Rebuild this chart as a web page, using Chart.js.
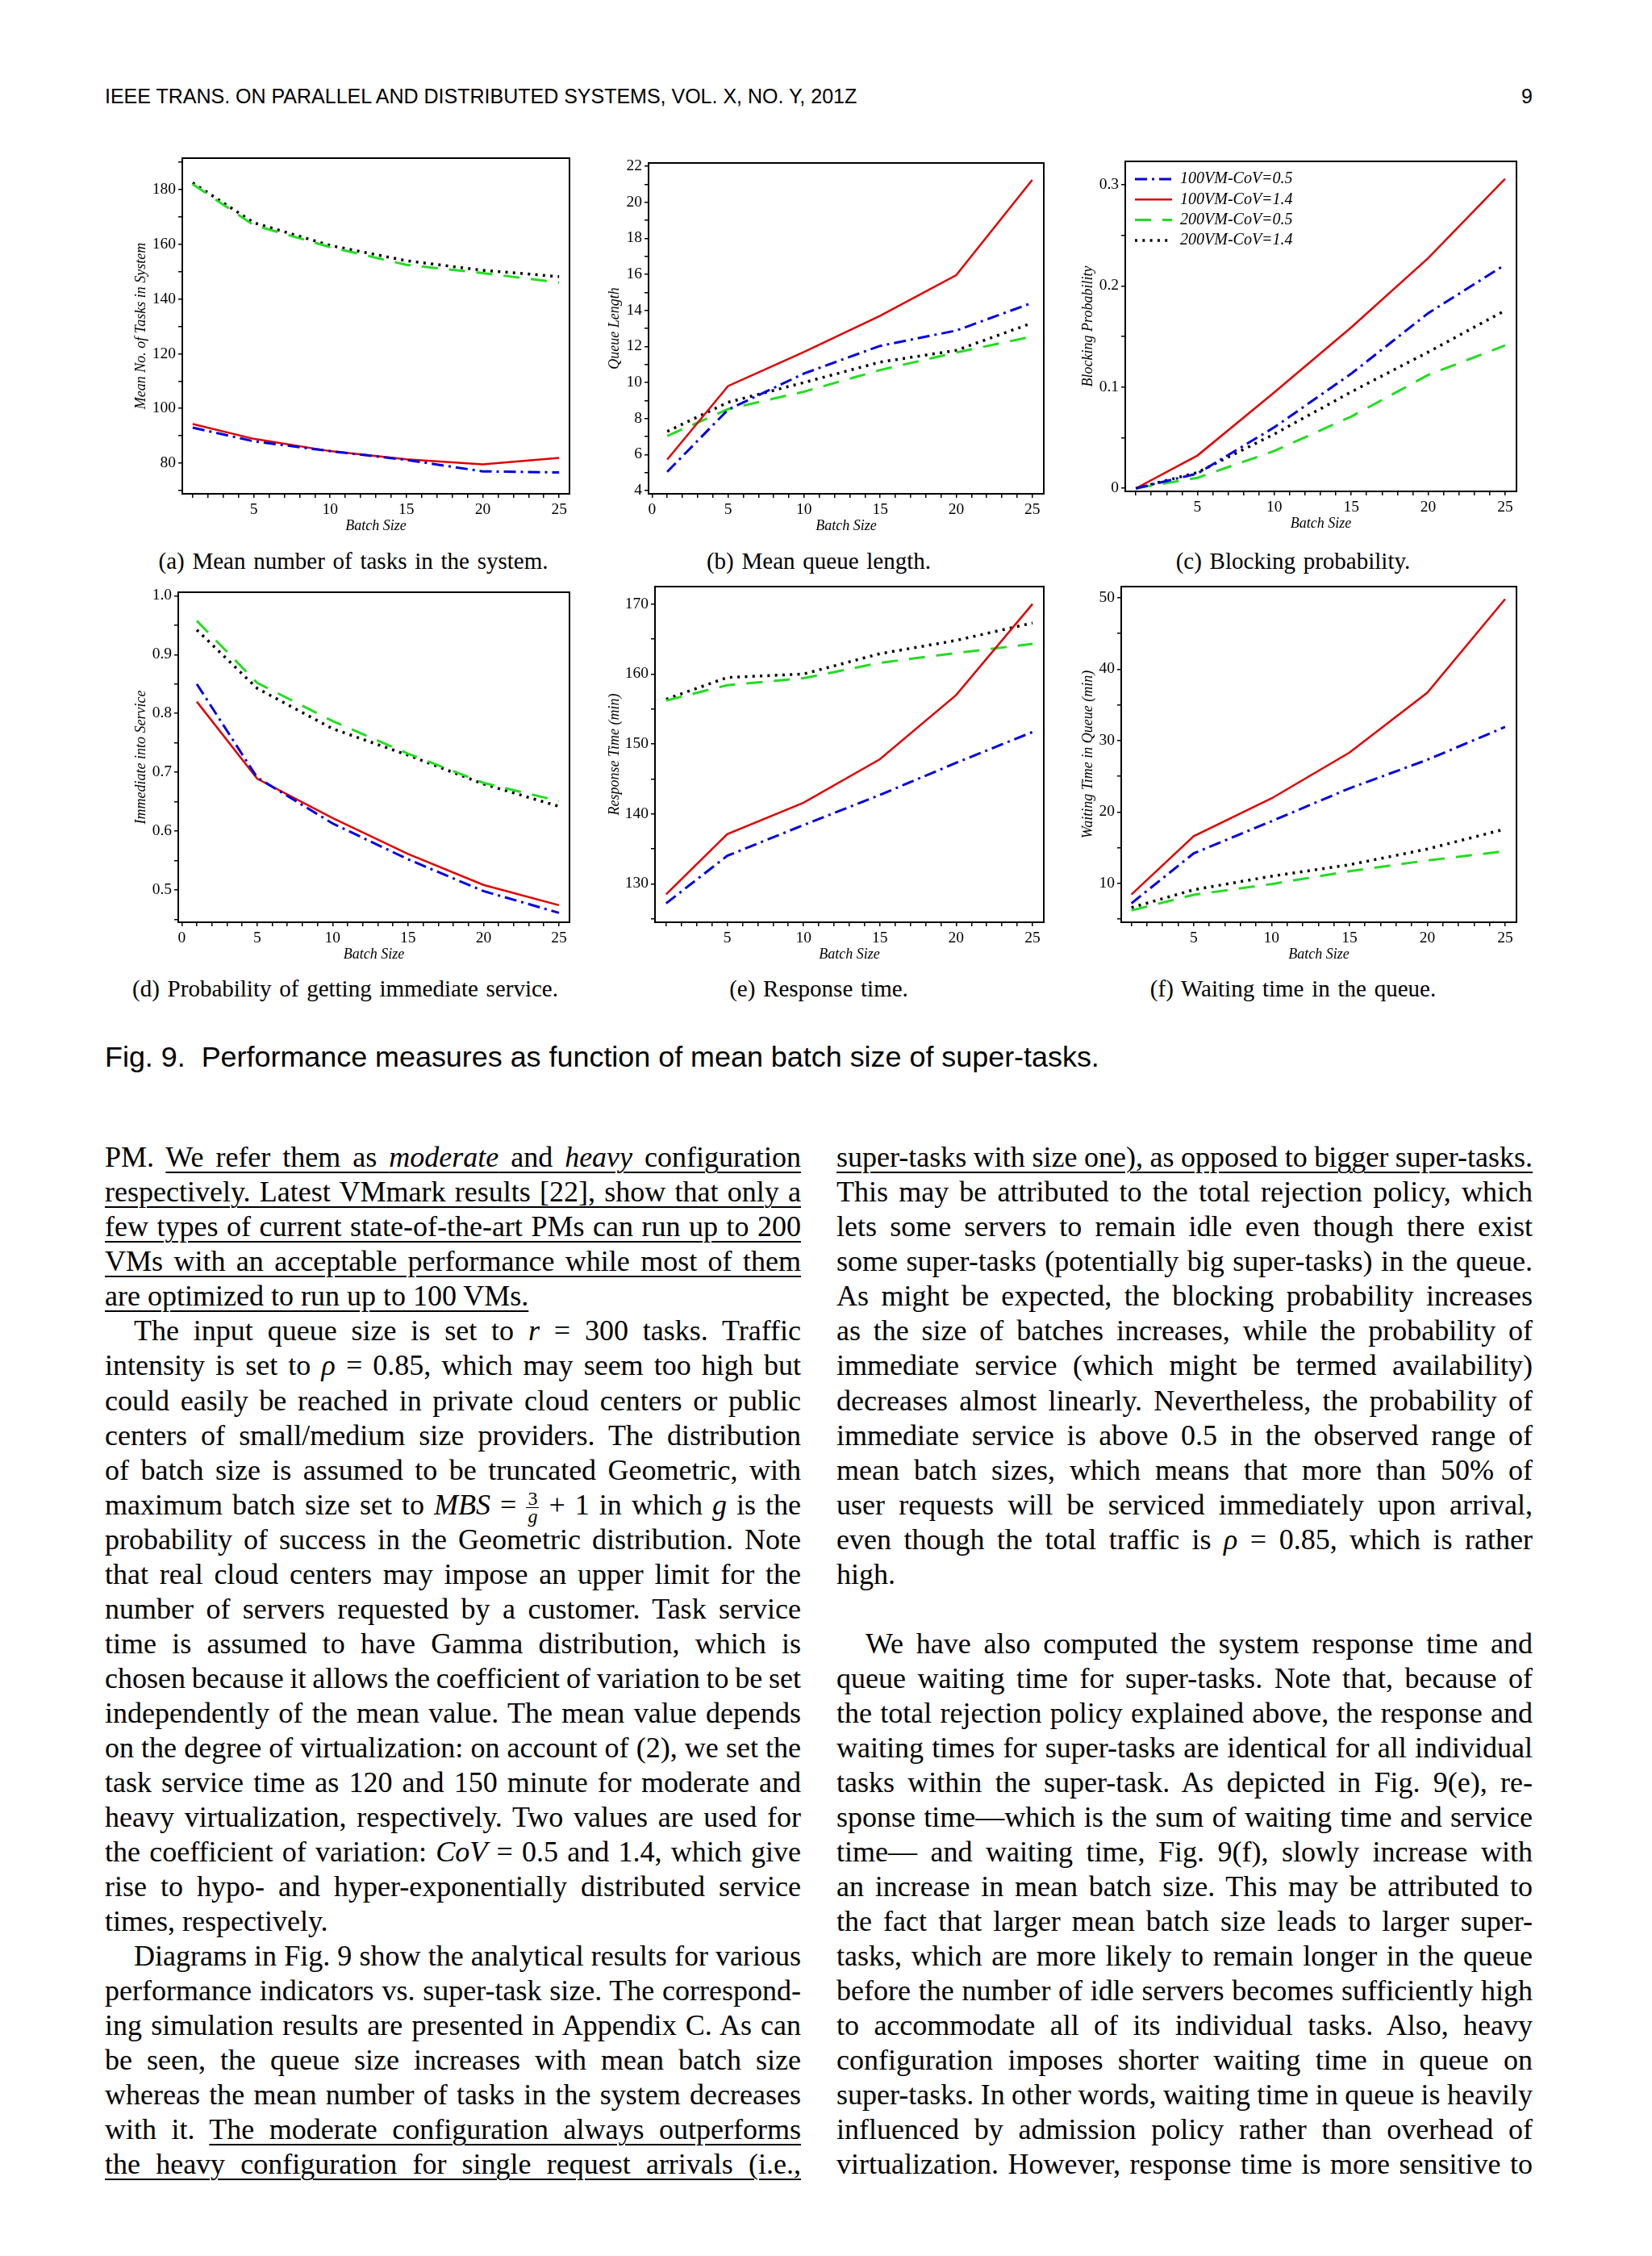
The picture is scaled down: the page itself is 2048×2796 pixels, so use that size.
<!DOCTYPE html>
<html>
<head>
<meta charset="utf-8">
<title>Fig. 9 - performance measures vs batch size</title>
<script src="https://cdn.jsdelivr.net/npm/chart.js@4.4.1/dist/chart.umd.min.js"></script>
<style>
  html, body { margin: 0; padding: 0; background: #fff; }
  body { position: relative; width: 2048px; height: 2796px; overflow: hidden; color: #000;
         font-family: "Liberation Serif", "Times New Roman", serif; }
  .sans { font-family: "Liberation Sans", Arial, sans-serif; }
  .abs { position: absolute; white-space: nowrap; }
  .running { left: 130px; top: 107px; font-size: 25px; line-height: 25px; }
  .pageno { right: 148px; top: 107px; font-size: 25px; line-height: 25px; }
  .figcap { left: 130px; top: 1293px; font-size: 35.9px; line-height: 35.9px; white-space: pre; }
  .subcap { width: 600px; margin-left: -300px; text-align: center; font-size: 29px; line-height: 29px; word-spacing: 2.5px; }
  .ln { position: absolute; height: 43px; line-height: 43px; font-size: 36px; white-space: nowrap; }
  u { text-decoration-thickness: 1.5px; text-underline-offset: 6px; }
  .fr { display: inline-block; vertical-align: -0.42em; text-align: center; font-size: 24px; line-height: 21px; }
  .fr span { display: block; padding: 0 2px; }
  .fr span:first-child { border-bottom: 1.5px solid #000; }
</style>
</head>
<body>
<div class="abs sans running">IEEE TRANS. ON PARALLEL AND DISTRIBUTED SYSTEMS, VOL. X, NO. Y, 201Z</div>
<div class="abs sans pageno">9</div>

<div class="abs subcap" style="left:438px;top:681px">(a) Mean number of tasks in the system.</div>
<div class="abs subcap" style="left:1015px;top:681px">(b) Mean queue length.</div>
<div class="abs subcap" style="left:1603px;top:681px">(c) Blocking probability.</div>
<div class="abs subcap" style="left:428px;top:1211px">(d) Probability of getting immediate service.</div>
<div class="abs subcap" style="left:1015px;top:1211px">(e) Response time.</div>
<div class="abs subcap" style="left:1603px;top:1211px">(f) Waiting time in the queue.</div>

<div class="abs sans figcap">Fig. 9.  Performance measures as function of mean batch size of super-tasks.</div>

<script>
// batch sizes where the curves were evaluated
const batchSize = [1, 5, 10, 15, 20, 25];
const seriesLabels = ['100VM-CoV=0.5', '100VM-CoV=1.4', '200VM-CoV=0.5', '200VM-CoV=1.4'];

// (a) mean number of tasks in system
const tasks100Cov05 = [93, 88, 84.4, 81.2, 77, 76.6];
const tasks100Cov14 = [94.3, 88.9, 84.4, 81.4, 79.6, 81.9];
const tasks200Cov05 = [182, 167, 159, 152.5, 149.5, 146];
const tasks200Cov14 = [182.5, 167.9, 159.6, 154, 150.5, 148.2];

// (b) mean queue length
const queue100Cov05 = [5.04, 8.49, 10.5, 12.03, 12.88, 14.42];
const queue100Cov14 = [5.72, 9.8, 11.7, 13.7, 15.95, 21.24];
const queue200Cov05 = [7.03, 8.52, 9.49, 10.69, 11.66, 12.55];
const queue200Cov14 = [7.28, 8.9, 10.0, 11.13, 11.78, 13.3];

// (c) blocking probability
const block100Cov05 = [0, 0.0146, 0.0603, 0.1133, 0.173, 0.2209];
const block100Cov14 = [0, 0.0324, 0.0948, 0.159, 0.2275, 0.3058];
const block200Cov05 = [0, 0.0104, 0.0369, 0.0709, 0.112, 0.1412];
const block200Cov14 = [0, 0.0157, 0.0536, 0.0953, 0.1346, 0.1757];

// (d) probability of immediate service
const immed100Cov05 = [0.85, 0.691, 0.613, 0.552, 0.498, 0.461];
const immed100Cov14 = [0.82, 0.689, 0.622, 0.561, 0.5085, 0.474];
const immed200Cov05 = [0.9575, 0.852, 0.787, 0.7316, 0.682, 0.651];
const immed200Cov14 = [0.942, 0.8426, 0.774, 0.729, 0.68, 0.642];

// (e) response time (min)
const resp100Cov05 = [127.2, 134, 138.4, 142.7, 147.3, 151.7];
const resp100Cov14 = [128.5, 137.1, 141.6, 147.8, 157.0, 170];
const resp200Cov05 = [156.2, 158.4, 159.4, 161.6, 163.0, 164.3];
const resp200Cov14 = [156.4, 159.5, 160, 162.9, 164.8, 167.3];

// (f) waiting time in queue (min)
const wait100Cov05 = [7.2, 14.2, 18.7, 23.3, 27.3, 31.9];
const wait100Cov14 = [8.44, 16.6, 21.9, 28.3, 36.7, 49.8];
const wait200Cov05 = [6.2, 8.4, 9.9, 11.7, 13.2, 14.5];
const wait200Cov14 = [6.6, 9.1, 11.0, 12.6, 14.8, 17.6];

// labelled ticks
const xTickLabels = [0, 5, 10, 15, 20, 25];
const yTicksA = [80, 100, 120, 140, 160, 180];
const yTicksB = [4, 6, 8, 10, 12, 14, 16, 18, 20, 22];
const yTicksC = [0, 0.1, 0.2, 0.3];
const yTicksD = [0.5, 0.6, 0.7, 0.8, 0.9, 1.0];
const yTicksE = [130, 140, 150, 160, 170];
const yTicksF = [10, 20, 30, 40, 50];

const lineStyles = [
  { borderColor: '#0000e0', borderWidth: 3, borderDash: [15, 6, 3, 6] },
  { borderColor: '#e00000', borderWidth: 2.5, borderDash: [] },
  { borderColor: '#22dd22', borderWidth: 3, borderDash: [20, 14] },
  { borderColor: '#000000', borderWidth: 3.5, borderDash: [3, 6.3] }
];

Chart.defaults.font.family = '"Liberation Serif", "Times New Roman", serif';
Chart.defaults.color = '#000';

// frame round the plot area (Maple style box)
const frame = {
  id: 'frame',
  afterDatasetsDraw(chart) {
    const { ctx, chartArea: a } = chart;
    ctx.save();
    ctx.strokeStyle = '#000';
    ctx.lineWidth = 2;
    ctx.strokeRect(a.left, a.top, a.right - a.left, a.bottom - a.top);
    ctx.restore();
  }
};

// legend drawn inside the plot, top-left (only panel c)
const insideLegend = {
  id: 'insideLegend',
  afterDatasetsDraw(chart) {
    const { ctx, chartArea: a } = chart;
    ctx.save();
    ctx.font = 'italic 20px "Liberation Serif"';
    ctx.textBaseline = 'middle';
    ctx.fillStyle = '#000';
    chart.data.datasets.forEach((ds, i) => {
      const y = a.top + 22 + i * 25.3;
      ctx.strokeStyle = ds.borderColor;
      ctx.lineWidth = ds.borderWidth;
      ctx.setLineDash(ds.borderDash);
      ctx.beginPath();
      ctx.moveTo(a.left + 12, y);
      ctx.lineTo(a.left + 58, y);
      ctx.stroke();
      ctx.fillText(ds.label, a.left + 68, y);
    });
    ctx.restore();
  }
};

const PAD_L = 100, PAD_T = 20, PAD_R = 20, PAD_B = 60;

function axis(isX, cfg) {
  const min = isX ? cfg.xMin : cfg.yMin;
  const max = isX ? cfg.xMax : cfg.yMax;
  const step = isX ? 1 : cfg.yStep;
  const labels = isX ? xTickLabels : cfg.yLabels;
  const fmt = isX ? (v => String(v)) : cfg.fmt;
  return {
    type: 'linear', min, max,
    afterFit: s => { if (isX) s.height = PAD_B; else s.width = PAD_L; },
    afterBuildTicks: s => {
      const t = [];
      for (let k = Math.ceil(min / step - 1e-9); k * step <= max + 1e-9; k++) {
        t.push({ value: +(k * step).toFixed(4) });
      }
      s.ticks = t;
    },
    ticks: {
      autoSkip: false, maxRotation: 0, padding: 3, font: { size: 19.5 },
      callback: v => labels.some(m => Math.abs(m - v) < 1e-9) ? fmt(v) : ''
    },
    grid: { drawOnChartArea: false, drawTicks: true, tickLength: 5, color: '#000', lineWidth: 1.5 },
    border: { display: true, color: '#000', width: 2 },
    title: {
      display: true, text: isX ? 'Batch Size' : cfg.yTitle,
      font: { size: 18, style: 'italic' },
      padding: isX ? { top: 0, bottom: 9.2 } : { top: PAD_L - cfg.yTitleOff - 10.8, bottom: 0 }
    }
  };
}

function makeChart(cfg) {
  const [l, t, r, b] = cfg.box;
  const w = r - l + PAD_L + PAD_R, h = b - t + PAD_T + PAD_B;
  const cv = document.createElement('canvas');
  cv.width = w; cv.height = h;
  cv.style.cssText = `position:absolute;left:${l - PAD_L}px;top:${t - PAD_T}px;width:${w}px;height:${h}px;`;
  document.body.appendChild(cv);
  const datasets = cfg.series.map((vals, i) => Object.assign({
    label: seriesLabels[i],
    data: batchSize.map((x, k) => ({ x, y: vals[k] })),
    pointRadius: 0, tension: 0, fill: false
  }, lineStyles[i]));
  new Chart(cv, {
    type: 'line',
    data: { datasets },
    options: {
      responsive: false, animation: false, devicePixelRatio: 1,
      layout: { padding: { left: 0, top: PAD_T, right: PAD_R, bottom: 0 } },
      plugins: { legend: { display: false }, tooltip: { enabled: false } },
      scales: { x: axis(true, cfg), y: axis(false, cfg) }
    },
    plugins: cfg.legend ? [frame, insideLegend] : [frame]
  });
}

const oneDec = v => v.toFixed(1);
const plain = v => String(v);

makeChart({ box: [226, 196, 706, 612], yTitle: 'Mean No. of Tasks in System', yTitleOff: 51,
  xMin: 0.32, xMax: 25.68, yMin: 68.8, yMax: 191.5, yStep: 10, yLabels: yTicksA, fmt: plain,
  series: [tasks100Cov05, tasks100Cov14, tasks200Cov05, tasks200Cov14] });
makeChart({ box: [804, 202, 1294, 612], yTitle: 'Queue Length', yTitleOff: 42,
  xMin: -0.23, xMax: 25.76, yMin: 3.82, yMax: 22.18, yStep: 1, yLabels: yTicksB, fmt: plain,
  series: [queue100Cov05, queue100Cov14, queue200Cov05, queue200Cov14] });
makeChart({ box: [1395, 200, 1880, 609], yTitle: 'Blocking Probability', yTitleOff: 46, legend: true,
  xMin: 0.31, xMax: 25.74, yMin: -0.003, yMax: 0.323, yStep: 0.05, yLabels: yTicksC, fmt: plain,
  series: [block100Cov05, block100Cov14, block200Cov05, block200Cov14] });
makeChart({ box: [221, 734, 706, 1143], yTitle: 'Immediate into Service', yTitleOff: 46,
  xMin: -0.23, xMax: 25.7, yMin: 0.445, yMax: 1.006, yStep: 0.05, yLabels: yTicksD, fmt: oneDec,
  series: [immed100Cov05, immed100Cov14, immed200Cov05, immed200Cov14] });
makeChart({ box: [812, 727, 1294, 1143], yTitle: 'Response Time (min)', yTitleOff: 50,
  xMin: 0.27, xMax: 25.74, yMin: 124.5, yMax: 172.5, yStep: 5, yLabels: yTicksE, fmt: plain,
  series: [resp100Cov05, resp100Cov14, resp200Cov05, resp200Cov14] });
makeChart({ box: [1390, 727, 1880, 1143], yTitle: 'Waiting Time in Queue (min)', yTitleOff: 41,
  xMin: 0.345, xMax: 25.73, yMin: 4.55, yMax: 51.56, yStep: 5, yLabels: yTicksF, fmt: plain,
  series: [wait100Cov05, wait100Cov14, wait200Cov05, wait200Cov14] });

// ---- body text, one div per typeset line so the breaks match the page ----
const FRAC = '<span class="fr"><span>3</span><span><i>g</i></span></span>';
const leftLines = [
  ['PM. <u>We refer them as <i>moderate</i> and <i>heavy</i> configuration</u>', 'j'],
  ['<u>respectively. Latest VMmark results [22], show that only a</u>', 'j'],
  ['<u>few types of current state-of-the-art PMs can run up to 200</u>', 'j'],
  ['<u>VMs with an acceptable performance while most of them</u>', 'j'],
  ['<u>are optimized to run up to 100 VMs.</u>', 'l'],
  ['The input queue size is set to <i>r</i> = 300 tasks. Traffic', 'ij'],
  ['intensity is set to <i>ρ</i> = 0.85, which may seem too high but', 'j'],
  ['could easily be reached in private cloud centers or public', 'j'],
  ['centers of small/medium size providers. The distribution', 'j'],
  ['of batch size is assumed to be truncated Geometric, with', 'j'],
  ['maximum batch size set to <i>MBS</i> = ' + FRAC + ' + 1 in which <i>g</i> is the', 'j'],
  ['probability of success in the Geometric distribution. Note', 'j'],
  ['that real cloud centers may impose an upper limit for the', 'j'],
  ['number of servers requested by a customer. Task service', 'j'],
  ['time is assumed to have Gamma distribution, which is', 'j'],
  ['chosen because it allows the coefficient of variation to be set', 'j'],
  ['independently of the mean value. The mean value depends', 'j'],
  ['on the degree of virtualization: on account of (2), we set the', 'j'],
  ['task service time as 120 and 150 minute for moderate and', 'j'],
  ['heavy virtualization, respectively. Two values are used for', 'j'],
  ['the coefficient of variation: <i>CoV</i> = 0.5 and 1.4, which give', 'j'],
  ['rise to hypo- and hyper-exponentially distributed service', 'j'],
  ['times, respectively.', 'l'],
  ['Diagrams in Fig. 9 show the analytical results for various', 'ij'],
  ['performance indicators vs. super-task size. The correspond-', 'j'],
  ['ing simulation results are presented in Appendix C. As can', 'j'],
  ['be seen, the queue size increases with mean batch size', 'j'],
  ['whereas the mean number of tasks in the system decreases', 'j'],
  ['with it. <u>The moderate configuration always outperforms</u>', 'j'],
  ['<u>the heavy configuration for single request arrivals (i.e.,</u>', 'j']
];
const rightLines = [
  ['<u>super-tasks with size one), as opposed to bigger super-tasks.</u>', 'j'],
  ['This may be attributed to the total rejection policy, which', 'j'],
  ['lets some servers to remain idle even though there exist', 'j'],
  ['some super-tasks (potentially big super-tasks) in the queue.', 'j'],
  ['As might be expected, the blocking probability increases', 'j'],
  ['as the size of batches increases, while the probability of', 'j'],
  ['immediate service (which might be termed availability)', 'j'],
  ['decreases almost linearly. Nevertheless, the probability of', 'j'],
  ['immediate service is above 0.5 in the observed range of', 'j'],
  ['mean batch sizes, which means that more than 50% of', 'j'],
  ['user requests will be serviced immediately upon arrival,', 'j'],
  ['even though the total traffic is <i>ρ</i> = 0.85, which is rather', 'j'],
  ['high.', 'l'],
  null,
  ['We have also computed the system response time and', 'ij'],
  ['queue waiting time for super-tasks. Note that, because of', 'j'],
  ['the total rejection policy explained above, the response and', 'j'],
  ['waiting times for super-tasks are identical for all individual', 'j'],
  ['tasks within the super-task. As depicted in Fig. 9(e), re-', 'j'],
  ['sponse time—which is the sum of waiting time and service', 'j'],
  ['time— and waiting time, Fig. 9(f), slowly increase with', 'j'],
  ['an increase in mean batch size. This may be attributed to', 'j'],
  ['the fact that larger mean batch size leads to larger super-', 'j'],
  ['tasks, which are more likely to remain longer in the queue', 'j'],
  ['before the number of idle servers becomes sufficiently high', 'j'],
  ['to accommodate all of its individual tasks. Also, heavy', 'j'],
  ['configuration imposes shorter waiting time in queue on', 'j'],
  ['super-tasks. In other words, waiting time in queue is heavily', 'j'],
  ['influenced by admission policy rather than overhead of', 'j'],
  ['virtualization. However, response time is more sensitive to', 'j']
];

const COL_W = 863, LINE_TOP = 1413.3, PITCH = 43.03, INDENT = 36;
function placeColumn(lines, x) {
  lines.forEach((ln, i) => {
    if (!ln) return;
    const [html, mode] = ln;
    const ind = mode.includes('i') ? INDENT : 0;
    const div = document.createElement('div');
    div.className = 'ln';
    div.style.left = (x + ind) + 'px';
    div.style.top = (LINE_TOP + i * PITCH) + 'px';
    div.innerHTML = '<span>' + html + '</span>';
    document.body.appendChild(div);
    if (mode.includes('j')) {
      const span = div.firstChild;
      const w = span.getBoundingClientRect().width;
      const n = span.textContent.split(' ').length - 1;
      if (n > 0) div.style.wordSpacing = ((COL_W - ind - w) / n) + 'px';
    }
  });
}
placeColumn(leftLines, 130);
placeColumn(rightLines, 1037);
</script>
</body>
</html>
